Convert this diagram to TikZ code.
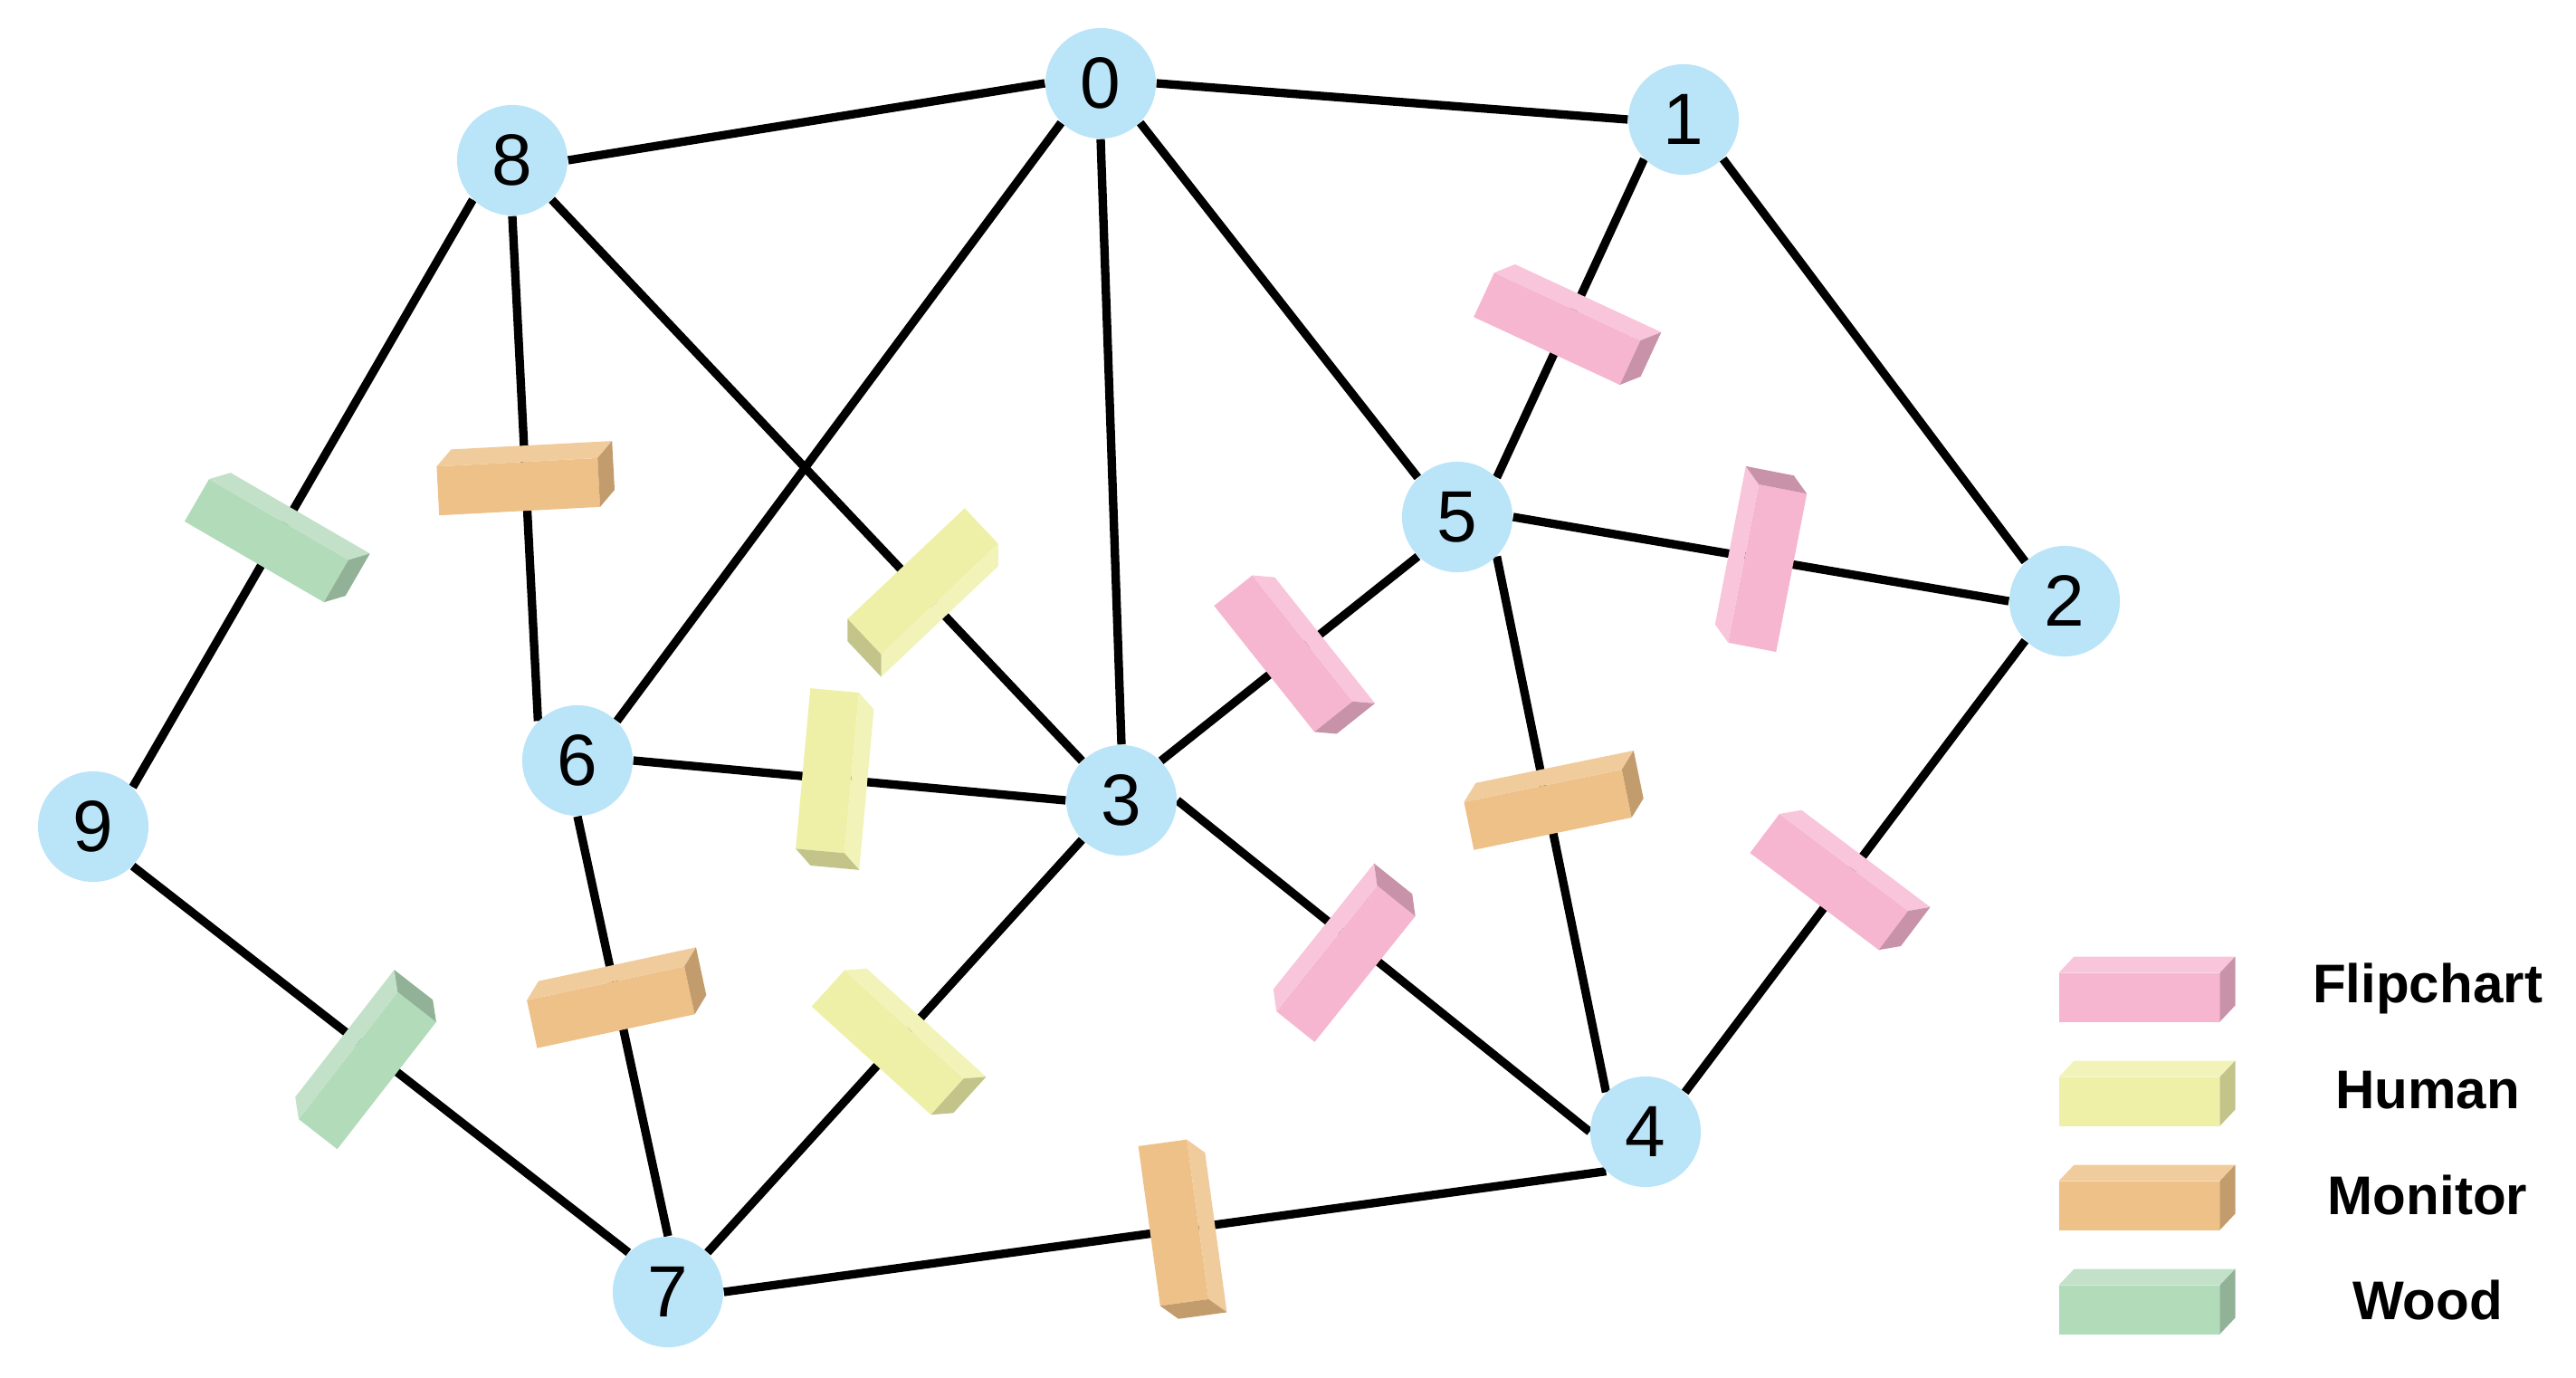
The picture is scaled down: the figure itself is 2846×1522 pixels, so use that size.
\documentclass[tikz,border=0pt]{standalone}
\usepackage{fontspec}
\setmainfont{Liberation Sans}
\usetikzlibrary{calc}
\pgfdeclarelayer{edgelayer}
\pgfdeclarelayer{blocklayer}
\pgfsetlayers{edgelayer,blocklayer,main}

\definecolor{nodeblue}{RGB}{186,228,248}
\definecolor{flipF}{RGB}{246,182,208}
\definecolor{flipT}{RGB}{248,197,218}
\definecolor{flipS}{RGB}{200,147,168}
\definecolor{humF}{RGB}{239,240,168}
\definecolor{humT}{RGB}{242,243,185}
\definecolor{humS}{RGB}{194,196,138}
\definecolor{monF}{RGB}{237,193,135}
\definecolor{monT}{RGB}{240,203,156}
\definecolor{monS}{RGB}{194,156,108}
\definecolor{woodF}{RGB}{178,219,186}
\definecolor{woodT}{RGB}{195,225,200}
\definecolor{woodS}{RGB}{146,178,152}

\begin{document}
\begin{tikzpicture}[x=0.01cm,y=-0.01cm,
  gnode/.style={circle,fill=nodeblue,minimum size=1.22cm,inner sep=0pt,
    font=\fontsize{22.8pt}{27pt}\selectfont},
  edge/.style={line width=2.65pt,black},
  legtext/.style={font=\bfseries\fontsize{17.1pt}{21pt}\selectfont,inner sep=0pt,anchor=base},
  pics/blk/.style 2 args={code={
    \begin{scope}[x=0.01cm,y=0.01cm]
      \fill[#1F] (-#2-8.5,-36) rectangle (#2-8.5,18);
      \fill[#1T] (-#2-8.5,18) -- (#2-8.5,18) -- (#2+8.5,36) -- (-#2+8.5,36) -- cycle;
      \fill[#1S] (#2-8.5,-36) -- (#2+8.5,-18) -- (#2+8.5,36) -- (#2-8.5,18) -- cycle;
    \end{scope}}}
]
\useasboundingbox (0,0) rectangle (2846,1522);

% graph nodes
\node[gnode] (n0) at (1216,92) {0};
\node[gnode] (n1) at (1860,132) {1};
\node[gnode] (n2) at (2281,664) {2};
\node[gnode] (n3) at (1239,884) {3};
\node[gnode] (n4) at (1818,1250) {4};
\node[gnode] (n5) at (1610,571) {5};
\node[gnode] (n6) at (638,840) {6};
\node[gnode] (n7) at (738,1427) {7};
\node[gnode] (n8) at (566,177) {8};
\node[gnode] (n9) at (103,913) {9};

% edges
\begin{pgfonlayer}{edgelayer}
\draw[edge] (n8.east) -- (n0.west);
\draw[edge] (n0.east) -- (n1.west);
\draw[edge] (n8.south west) -- (n9.north east);
\draw[edge] (n8.south) -- (n6.north west);
\draw[edge] (n8.south east) -- (n3.north west);
\draw[edge] (n0.south west) -- (n6.north east);
\draw[edge] (n0.south) -- (n3.north);
\draw[edge] (n0.south east) -- (n5.north west);
\draw[edge] (n5.north east) -- (n1.south west);
\draw[edge] (n1.south east) -- (n2.north west);
\draw[edge] (n5.east) -- (n2.west);
\draw[edge] (n3.north east) -- (n5.south west);
\draw[edge] (n5.south east) -- (n4.north west);
\draw[edge] (n6.east) -- (n3.west);
\draw[edge] (n3.south west) -- (n7.north east);
\draw[edge] (n3.east) -- (n4.west);
\draw[edge] (n6.south) -- (n7.north);
\draw[edge] (n9.south east) -- (n7.north west);
\draw[edge] (n7.east) -- (n4.south west);
\draw[edge] (n2.south west) -- (n4.north east);
\end{pgfonlayer}

% blocks on edges
\begin{pgfonlayer}{blocklayer}
\pic[rotate=-30.1] at ($(n8.south west)!0.575!(n9.north east)$) {blk={wood}{89}};
\pic[rotate=3] at ($(n8.south)!0.519!(n6.north west)$) {blk={mon}{89}};
\pic[rotate=-136.6] at ($(n8.south east)!0.70!(n3.north west)$) {blk={hum}{89}};
\pic[rotate=-95.2] at ($(n6.east)!0.466!(n3.west)$) {blk={hum}{89}};
\pic[rotate=-51.5] at ($(n3.north east)!0.52!(n5.south west)$) {blk={flip}{89}};
\pic[rotate=-24.9] at ($(n5.north east)!0.48!(n1.south west)$) {blk={flip}{89}};
\pic[rotate=79] at ($(n5.east)!0.50!(n2.west)$) {blk={flip}{89}};
\pic[rotate=11.6] at ($(n5.south east)!0.455!(n4.north west)+(8,0)$) {blk={mon}{89}};
\pic[rotate=-37] at ($(n2.south west)!0.52!(n4.north east)+(-9,5)$) {blk={flip}{89}};
\pic[rotate=51.3] at ($(n3.east)!0.405!(n4.west)+(0,20)$) {blk={flip}{89}};
\pic[rotate=-42.2] at ($(n3.south west)!0.489!(n7.north east)$) {blk={hum}{89}};
\pic[rotate=12.1] at ($(n6.south)!0.432!(n7.north)$) {blk={mon}{89}};
\pic[rotate=52.1] at ($(n9.south east)!0.47!(n7.north west)+(0,13)$) {blk={wood}{89}};
\pic[rotate=-82.2] at ($(n7.east)!0.52!(n4.south west)$) {blk={mon}{89}};
\end{pgfonlayer}

% legend
\pic at (2372,1092.5) {blk={flip}{89}};
\pic at (2372,1207.5) {blk={hum}{89}};
\pic at (2372,1322.5) {blk={mon}{89}};
\pic at (2372,1437.5) {blk={wood}{89}};
\node[legtext] (lflip) at (2682,1107) {Flipchart};
\node[legtext] (lhum) at (2682,1224) {Human};
\node[legtext] (lmon) at (2682,1341) {Monitor};
\node[legtext] (lwood) at (2682,1457) {Wood};
\end{tikzpicture}
\end{document}
